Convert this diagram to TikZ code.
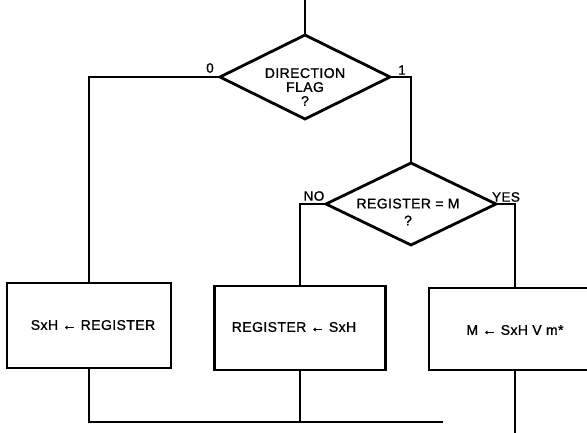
\documentclass[tikz,border=0pt]{standalone}
\usepackage{fontspec}
\setmainfont{Liberation Sans}
\newfontfamily\flowfont[LetterSpace=3,FakeBold=1.2]{Liberation Sans}
\usetikzlibrary{shapes.geometric}
\begin{document}
\begin{tikzpicture}[x=1pt,y=-1pt,
  conn/.style={line width=2pt},
  decision/.style={diamond, draw, line width=2.8pt, inner sep=0pt, outer sep=0pt},
  procbox/.style={rectangle, draw, line width=2.8pt, inner sep=0pt, outer sep=0pt},
  txt/.style={font=\flowfont\fontsize{14}{14}\selectfont, align=center, inner sep=0pt},
  lbl/.style={font=\flowfont\fontsize{13.5}{13}\selectfont, inner sep=0pt}]
\clip (0,0) rectangle (587,432);
\fill[white] (0,0) rectangle (587,432);
% decisions
\node[decision, minimum width=170pt, minimum height=84pt] (d1) at (305,77) {};
\node[txt] (t1) at (305,87) {DIRECTION\\FLAG\\?};
\node[decision, minimum width=170pt, minimum height=82pt] (d2) at (411,204) {};
\node[txt] (t2) at (408,212) {REGISTER = M\\[3pt]?};
% boxes
\node[procbox, minimum width=164pt, minimum height=85pt] (b1) at (89,325.5) {};
\node[txt] (tb1) at (93,325) {SxH ← REGISTER};
\node[procbox, minimum width=171pt, minimum height=84pt] (b2) at (300,328) {};
\node[txt] (tb2) at (294,327) {REGISTER ← SxH};
\node[procbox, minimum width=172pt, minimum height=82pt] (b3) at (515,329) {};
\node[txt] (tb3) at (515,330) {M ← SxH V m*};
% labels
\node[lbl] (l0) at (210,68) {0};
\node[lbl] (l1) at (402,70) {1};
\node[lbl] (lno) at (314,196) {NO};
\node[lbl] (lyes) at (506,197) {YES};
% free ends
\coordinate (top) at (305,-5);
\coordinate (jl) at (89,422);
\coordinate (jr) at (443,422);
\coordinate (bend) at (515,440);
% connectors
\draw[conn] (top) -- (d1.north);
\draw[conn] (d1.west) -| (b1.north);
\draw[conn] (d1.east) -| (d2.north);
\draw[conn] (d2.west) -| (b2.north);
\draw[conn] (d2.east) -| (b3.north);
\draw[conn] (b1.south) |- (jr);
\draw[conn] (b2.south) -- (b2.south |- jl);
\draw[conn] (b3.south) -- (bend);
\end{tikzpicture}
\end{document}
